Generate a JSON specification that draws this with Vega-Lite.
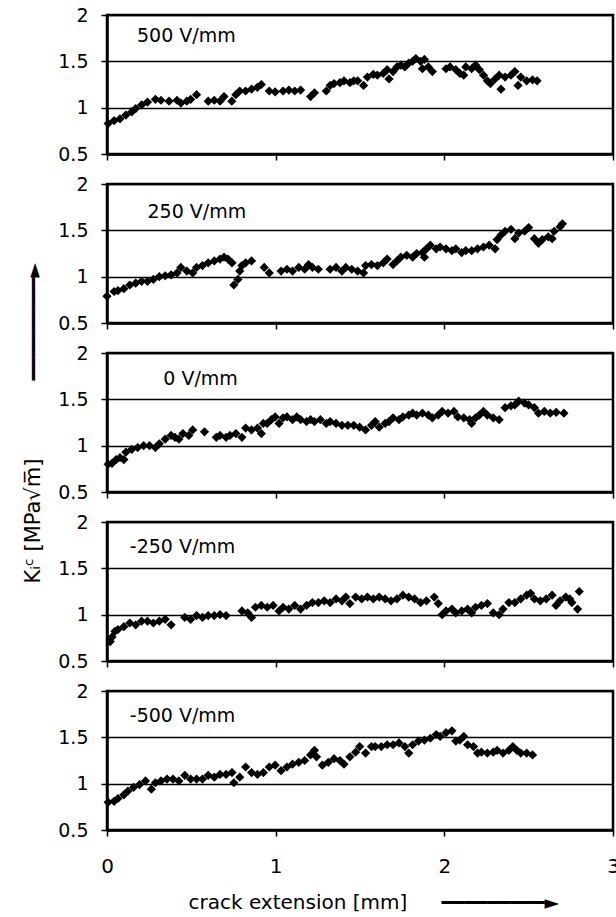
{
  "$schema": "https://vega.github.io/schema/vega-lite/v6.json",
  "padding": {"left": 20, "top": 4, "right": 0, "bottom": 0},
  "background": "white",
  "bounds": "flush",
  "spacing": 30,
  "config": {
    "font": "DejaVu Sans",
    "view": {"stroke": "black", "strokeWidth": 2.5},
    "axis": {
      "labelFont": "DejaVu Sans", "labelColor": "black", "labelFontSize": 19,
      "titleFont": "DejaVu Sans", "titleFontWeight": "normal", "titleColor": "black", "titleFontSize": 19,
      "domainColor": "black", "domainWidth": 2.5, "tickColor": "black", "tickWidth": 1.5, "tickSize": 6,
      "labelFlush": false, "labelOverlap": false, "format": "~g"
    },
    "axisX": {"grid": false, "labels": false, "title": null},
    "axisY": {"grid": true, "gridColor": "black", "gridWidth": 1.5, "labelPadding": 13, "title": null}
  },
  "datasets": {
    "kic": [
      {"panel": "500", "x": 0.007, "k": 0.83}, {"panel": "500", "x": 0.042, "k": 0.86}, {"panel": "500", "x": 0.077, "k": 0.88}, {"panel": "500", "x": 0.112, "k": 0.92}, {"panel": "500", "x": 0.147, "k": 0.955}, {"panel": "500", "x": 0.17, "k": 0.99}, {"panel": "500", "x": 0.205, "k": 1.03}, {"panel": "500", "x": 0.24, "k": 1.06}, {"panel": "500", "x": 0.287, "k": 1.09}, {"panel": "500", "x": 0.32, "k": 1.08}, {"panel": "500", "x": 0.368, "k": 1.07}, {"panel": "500", "x": 0.415, "k": 1.08}, {"panel": "500", "x": 0.438, "k": 1.05}, {"panel": "500", "x": 0.473, "k": 1.07}, {"panel": "500", "x": 0.496, "k": 1.09}, {"panel": "500", "x": 0.531, "k": 1.14}, {"panel": "500", "x": 0.6, "k": 1.07}, {"panel": "500", "x": 0.636, "k": 1.08}, {"panel": "500", "x": 0.67, "k": 1.07}, {"panel": "500", "x": 0.694, "k": 1.12}, {"panel": "500", "x": 0.74, "k": 1.07}, {"panel": "500", "x": 0.764, "k": 1.14}, {"panel": "500", "x": 0.787, "k": 1.18}, {"panel": "500", "x": 0.822, "k": 1.18}, {"panel": "500", "x": 0.857, "k": 1.2}, {"panel": "500", "x": 0.892, "k": 1.22}, {"panel": "500", "x": 0.915, "k": 1.25}, {"panel": "500", "x": 0.962, "k": 1.18}, {"panel": "500", "x": 0.997, "k": 1.17}, {"panel": "500", "x": 1.044, "k": 1.18}, {"panel": "500", "x": 1.078, "k": 1.19}, {"panel": "500", "x": 1.113, "k": 1.18}, {"panel": "500", "x": 1.148, "k": 1.19}, {"panel": "500", "x": 1.207, "k": 1.12}, {"panel": "500", "x": 1.23, "k": 1.16}, {"panel": "500", "x": 1.3, "k": 1.18}, {"panel": "500", "x": 1.323, "k": 1.24}, {"panel": "500", "x": 1.346, "k": 1.26}, {"panel": "500", "x": 1.381, "k": 1.27}, {"panel": "500", "x": 1.405, "k": 1.29}, {"panel": "500", "x": 1.44, "k": 1.27}, {"panel": "500", "x": 1.463, "k": 1.29}, {"panel": "500", "x": 1.486, "k": 1.29}, {"panel": "500", "x": 1.521, "k": 1.24}, {"panel": "500", "x": 1.544, "k": 1.33}, {"panel": "500", "x": 1.579, "k": 1.36}, {"panel": "500", "x": 1.603, "k": 1.35}, {"panel": "500", "x": 1.638, "k": 1.37}, {"panel": "500", "x": 1.661, "k": 1.41}, {"panel": "500", "x": 1.672, "k": 1.31}, {"panel": "500", "x": 1.696, "k": 1.39}, {"panel": "500", "x": 1.719, "k": 1.44}, {"panel": "500", "x": 1.742, "k": 1.46}, {"panel": "500", "x": 1.766, "k": 1.44}, {"panel": "500", "x": 1.789, "k": 1.48}, {"panel": "500", "x": 1.812, "k": 1.5}, {"panel": "500", "x": 1.831, "k": 1.53}, {"panel": "500", "x": 1.859, "k": 1.5}, {"panel": "500", "x": 1.882, "k": 1.52}, {"panel": "500", "x": 1.87, "k": 1.42}, {"panel": "500", "x": 1.905, "k": 1.44}, {"panel": "500", "x": 1.929, "k": 1.39}, {"panel": "500", "x": 2.01, "k": 1.42}, {"panel": "500", "x": 2.034, "k": 1.44}, {"panel": "500", "x": 2.068, "k": 1.41}, {"panel": "500", "x": 2.092, "k": 1.37}, {"panel": "500", "x": 2.115, "k": 1.35}, {"panel": "500", "x": 2.127, "k": 1.44}, {"panel": "500", "x": 2.162, "k": 1.42}, {"panel": "500", "x": 2.185, "k": 1.46}, {"panel": "500", "x": 2.208, "k": 1.41}, {"panel": "500", "x": 2.232, "k": 1.35}, {"panel": "500", "x": 2.255, "k": 1.29}, {"panel": "500", "x": 2.273, "k": 1.26}, {"panel": "500", "x": 2.301, "k": 1.31}, {"panel": "500", "x": 2.325, "k": 1.35}, {"panel": "500", "x": 2.336, "k": 1.2}, {"panel": "500", "x": 2.36, "k": 1.33}, {"panel": "500", "x": 2.395, "k": 1.35}, {"panel": "500", "x": 2.418, "k": 1.39}, {"panel": "500", "x": 2.437, "k": 1.24}, {"panel": "500", "x": 2.453, "k": 1.33}, {"panel": "500", "x": 2.488, "k": 1.29}, {"panel": "500", "x": 2.523, "k": 1.3}, {"panel": "500", "x": 2.55, "k": 1.29},

      {"panel": "250", "x": 0.0, "k": 0.79}, {"panel": "250", "x": 0.042, "k": 0.84}, {"panel": "250", "x": 0.065, "k": 0.85}, {"panel": "250", "x": 0.1, "k": 0.87}, {"panel": "250", "x": 0.135, "k": 0.91}, {"panel": "250", "x": 0.17, "k": 0.93}, {"panel": "250", "x": 0.205, "k": 0.95}, {"panel": "250", "x": 0.24, "k": 0.95}, {"panel": "250", "x": 0.275, "k": 0.97}, {"panel": "250", "x": 0.31, "k": 1.0}, {"panel": "250", "x": 0.345, "k": 1.01}, {"panel": "250", "x": 0.38, "k": 1.02}, {"panel": "250", "x": 0.415, "k": 1.04}, {"panel": "250", "x": 0.438, "k": 1.1}, {"panel": "250", "x": 0.473, "k": 1.06}, {"panel": "250", "x": 0.508, "k": 1.04}, {"panel": "250", "x": 0.531, "k": 1.1}, {"panel": "250", "x": 0.566, "k": 1.12}, {"panel": "250", "x": 0.6, "k": 1.15}, {"panel": "250", "x": 0.636, "k": 1.17}, {"panel": "250", "x": 0.67, "k": 1.19}, {"panel": "250", "x": 0.694, "k": 1.21}, {"panel": "250", "x": 0.717, "k": 1.19}, {"panel": "250", "x": 0.741, "k": 1.15}, {"panel": "250", "x": 0.752, "k": 0.91}, {"panel": "250", "x": 0.776, "k": 0.97}, {"panel": "250", "x": 0.787, "k": 1.06}, {"panel": "250", "x": 0.8, "k": 1.12}, {"panel": "250", "x": 0.822, "k": 1.15}, {"panel": "250", "x": 0.857, "k": 1.17}, {"panel": "250", "x": 0.932, "k": 1.1}, {"panel": "250", "x": 0.962, "k": 1.04}, {"panel": "250", "x": 1.032, "k": 1.06}, {"panel": "250", "x": 1.067, "k": 1.08}, {"panel": "250", "x": 1.1, "k": 1.06}, {"panel": "250", "x": 1.137, "k": 1.1}, {"panel": "250", "x": 1.172, "k": 1.08}, {"panel": "250", "x": 1.195, "k": 1.13}, {"panel": "250", "x": 1.218, "k": 1.1}, {"panel": "250", "x": 1.253, "k": 1.08}, {"panel": "250", "x": 1.323, "k": 1.08}, {"panel": "250", "x": 1.358, "k": 1.1}, {"panel": "250", "x": 1.393, "k": 1.06}, {"panel": "250", "x": 1.416, "k": 1.1}, {"panel": "250", "x": 1.451, "k": 1.08}, {"panel": "250", "x": 1.486, "k": 1.06}, {"panel": "250", "x": 1.521, "k": 1.04}, {"panel": "250", "x": 1.533, "k": 1.12}, {"panel": "250", "x": 1.568, "k": 1.13}, {"panel": "250", "x": 1.603, "k": 1.12}, {"panel": "250", "x": 1.638, "k": 1.15}, {"panel": "250", "x": 1.661, "k": 1.19}, {"panel": "250", "x": 1.696, "k": 1.13}, {"panel": "250", "x": 1.719, "k": 1.17}, {"panel": "250", "x": 1.742, "k": 1.21}, {"panel": "250", "x": 1.777, "k": 1.23}, {"panel": "250", "x": 1.812, "k": 1.21}, {"panel": "250", "x": 1.836, "k": 1.25}, {"panel": "250", "x": 1.87, "k": 1.26}, {"panel": "250", "x": 1.882, "k": 1.21}, {"panel": "250", "x": 1.894, "k": 1.3}, {"panel": "250", "x": 1.917, "k": 1.34}, {"panel": "250", "x": 1.952, "k": 1.3}, {"panel": "250", "x": 1.975, "k": 1.32}, {"panel": "250", "x": 2.01, "k": 1.3}, {"panel": "250", "x": 2.045, "k": 1.28}, {"panel": "250", "x": 2.068, "k": 1.3}, {"panel": "250", "x": 2.103, "k": 1.26}, {"panel": "250", "x": 2.127, "k": 1.28}, {"panel": "250", "x": 2.162, "k": 1.28}, {"panel": "250", "x": 2.197, "k": 1.3}, {"panel": "250", "x": 2.232, "k": 1.32}, {"panel": "250", "x": 2.266, "k": 1.34}, {"panel": "250", "x": 2.301, "k": 1.3}, {"panel": "250", "x": 2.313, "k": 1.4}, {"panel": "250", "x": 2.336, "k": 1.45}, {"panel": "250", "x": 2.36, "k": 1.49}, {"panel": "250", "x": 2.395, "k": 1.51}, {"panel": "250", "x": 2.418, "k": 1.41}, {"panel": "250", "x": 2.441, "k": 1.47}, {"panel": "250", "x": 2.476, "k": 1.49}, {"panel": "250", "x": 2.5, "k": 1.53}, {"panel": "250", "x": 2.534, "k": 1.41}, {"panel": "250", "x": 2.558, "k": 1.36}, {"panel": "250", "x": 2.581, "k": 1.4}, {"panel": "250", "x": 2.616, "k": 1.43}, {"panel": "250", "x": 2.639, "k": 1.41}, {"panel": "250", "x": 2.651, "k": 1.49}, {"panel": "250", "x": 2.686, "k": 1.54}, {"panel": "250", "x": 2.7, "k": 1.57},

      {"panel": "0", "x": 0.007, "k": 0.8}, {"panel": "0", "x": 0.03, "k": 0.81}, {"panel": "0", "x": 0.054, "k": 0.85}, {"panel": "0", "x": 0.077, "k": 0.87}, {"panel": "0", "x": 0.1, "k": 0.85}, {"panel": "0", "x": 0.112, "k": 0.93}, {"panel": "0", "x": 0.147, "k": 0.96}, {"panel": "0", "x": 0.182, "k": 0.98}, {"panel": "0", "x": 0.217, "k": 1.0}, {"panel": "0", "x": 0.252, "k": 1.0}, {"panel": "0", "x": 0.287, "k": 0.98}, {"panel": "0", "x": 0.31, "k": 1.02}, {"panel": "0", "x": 0.345, "k": 1.07}, {"panel": "0", "x": 0.38, "k": 1.11}, {"panel": "0", "x": 0.403, "k": 1.09}, {"panel": "0", "x": 0.426, "k": 1.07}, {"panel": "0", "x": 0.45, "k": 1.13}, {"panel": "0", "x": 0.485, "k": 1.11}, {"panel": "0", "x": 0.508, "k": 1.17}, {"panel": "0", "x": 0.578, "k": 1.15}, {"panel": "0", "x": 0.648, "k": 1.09}, {"panel": "0", "x": 0.67, "k": 1.11}, {"panel": "0", "x": 0.706, "k": 1.09}, {"panel": "0", "x": 0.729, "k": 1.11}, {"panel": "0", "x": 0.764, "k": 1.13}, {"panel": "0", "x": 0.8, "k": 1.09}, {"panel": "0", "x": 0.822, "k": 1.19}, {"panel": "0", "x": 0.857, "k": 1.17}, {"panel": "0", "x": 0.892, "k": 1.19}, {"panel": "0", "x": 0.915, "k": 1.13}, {"panel": "0", "x": 0.927, "k": 1.24}, {"panel": "0", "x": 0.95, "k": 1.24}, {"panel": "0", "x": 0.974, "k": 1.28}, {"panel": "0", "x": 0.997, "k": 1.31}, {"panel": "0", "x": 1.02, "k": 1.24}, {"panel": "0", "x": 1.044, "k": 1.3}, {"panel": "0", "x": 1.067, "k": 1.31}, {"panel": "0", "x": 1.1, "k": 1.28}, {"panel": "0", "x": 1.125, "k": 1.31}, {"panel": "0", "x": 1.148, "k": 1.28}, {"panel": "0", "x": 1.183, "k": 1.26}, {"panel": "0", "x": 1.207, "k": 1.28}, {"panel": "0", "x": 1.23, "k": 1.26}, {"panel": "0", "x": 1.265, "k": 1.28}, {"panel": "0", "x": 1.3, "k": 1.24}, {"panel": "0", "x": 1.323, "k": 1.26}, {"panel": "0", "x": 1.358, "k": 1.24}, {"panel": "0", "x": 1.393, "k": 1.22}, {"panel": "0", "x": 1.428, "k": 1.22}, {"panel": "0", "x": 1.463, "k": 1.22}, {"panel": "0", "x": 1.498, "k": 1.2}, {"panel": "0", "x": 1.533, "k": 1.17}, {"panel": "0", "x": 1.568, "k": 1.22}, {"panel": "0", "x": 1.59, "k": 1.26}, {"panel": "0", "x": 1.614, "k": 1.2}, {"panel": "0", "x": 1.649, "k": 1.24}, {"panel": "0", "x": 1.672, "k": 1.26}, {"panel": "0", "x": 1.696, "k": 1.3}, {"panel": "0", "x": 1.731, "k": 1.28}, {"panel": "0", "x": 1.754, "k": 1.31}, {"panel": "0", "x": 1.789, "k": 1.33}, {"panel": "0", "x": 1.812, "k": 1.35}, {"panel": "0", "x": 1.836, "k": 1.33}, {"panel": "0", "x": 1.87, "k": 1.35}, {"panel": "0", "x": 1.905, "k": 1.33}, {"panel": "0", "x": 1.929, "k": 1.3}, {"panel": "0", "x": 1.964, "k": 1.33}, {"panel": "0", "x": 1.987, "k": 1.37}, {"panel": "0", "x": 2.022, "k": 1.35}, {"panel": "0", "x": 2.057, "k": 1.37}, {"panel": "0", "x": 2.08, "k": 1.31}, {"panel": "0", "x": 2.115, "k": 1.3}, {"panel": "0", "x": 2.15, "k": 1.28}, {"panel": "0", "x": 2.162, "k": 1.24}, {"panel": "0", "x": 2.185, "k": 1.3}, {"panel": "0", "x": 2.208, "k": 1.33}, {"panel": "0", "x": 2.232, "k": 1.37}, {"panel": "0", "x": 2.255, "k": 1.33}, {"panel": "0", "x": 2.29, "k": 1.3}, {"panel": "0", "x": 2.325, "k": 1.28}, {"panel": "0", "x": 2.36, "k": 1.41}, {"panel": "0", "x": 2.395, "k": 1.43}, {"panel": "0", "x": 2.418, "k": 1.44}, {"panel": "0", "x": 2.441, "k": 1.48}, {"panel": "0", "x": 2.476, "k": 1.46}, {"panel": "0", "x": 2.5, "k": 1.44}, {"panel": "0", "x": 2.534, "k": 1.41}, {"panel": "0", "x": 2.558, "k": 1.35}, {"panel": "0", "x": 2.593, "k": 1.37}, {"panel": "0", "x": 2.628, "k": 1.35}, {"panel": "0", "x": 2.663, "k": 1.36}, {"panel": "0", "x": 2.709, "k": 1.35},

      {"panel": "-250", "x": 0.019, "k": 0.71}, {"panel": "-250", "x": 0.03, "k": 0.76}, {"panel": "-250", "x": 0.047, "k": 0.82}, {"panel": "-250", "x": 0.065, "k": 0.84}, {"panel": "-250", "x": 0.1, "k": 0.87}, {"panel": "-250", "x": 0.135, "k": 0.91}, {"panel": "-250", "x": 0.17, "k": 0.89}, {"panel": "-250", "x": 0.205, "k": 0.93}, {"panel": "-250", "x": 0.24, "k": 0.93}, {"panel": "-250", "x": 0.275, "k": 0.91}, {"panel": "-250", "x": 0.31, "k": 0.93}, {"panel": "-250", "x": 0.345, "k": 0.95}, {"panel": "-250", "x": 0.38, "k": 0.89}, {"panel": "-250", "x": 0.461, "k": 0.97}, {"panel": "-250", "x": 0.496, "k": 0.95}, {"panel": "-250", "x": 0.531, "k": 0.99}, {"panel": "-250", "x": 0.566, "k": 0.97}, {"panel": "-250", "x": 0.6, "k": 0.99}, {"panel": "-250", "x": 0.636, "k": 0.99}, {"panel": "-250", "x": 0.67, "k": 1.0}, {"panel": "-250", "x": 0.706, "k": 0.99}, {"panel": "-250", "x": 0.8, "k": 1.04}, {"panel": "-250", "x": 0.834, "k": 1.02}, {"panel": "-250", "x": 0.857, "k": 0.97}, {"panel": "-250", "x": 0.88, "k": 1.08}, {"panel": "-250", "x": 0.915, "k": 1.1}, {"panel": "-250", "x": 0.95, "k": 1.08}, {"panel": "-250", "x": 0.985, "k": 1.1}, {"panel": "-250", "x": 1.02, "k": 1.04}, {"panel": "-250", "x": 1.044, "k": 1.08}, {"panel": "-250", "x": 1.078, "k": 1.06}, {"panel": "-250", "x": 1.113, "k": 1.1}, {"panel": "-250", "x": 1.148, "k": 1.06}, {"panel": "-250", "x": 1.183, "k": 1.1}, {"panel": "-250", "x": 1.218, "k": 1.13}, {"panel": "-250", "x": 1.253, "k": 1.13}, {"panel": "-250", "x": 1.288, "k": 1.15}, {"panel": "-250", "x": 1.323, "k": 1.13}, {"panel": "-250", "x": 1.358, "k": 1.17}, {"panel": "-250", "x": 1.393, "k": 1.15}, {"panel": "-250", "x": 1.416, "k": 1.19}, {"panel": "-250", "x": 1.44, "k": 1.12}, {"panel": "-250", "x": 1.474, "k": 1.19}, {"panel": "-250", "x": 1.51, "k": 1.17}, {"panel": "-250", "x": 1.544, "k": 1.19}, {"panel": "-250", "x": 1.579, "k": 1.17}, {"panel": "-250", "x": 1.614, "k": 1.19}, {"panel": "-250", "x": 1.649, "k": 1.17}, {"panel": "-250", "x": 1.684, "k": 1.15}, {"panel": "-250", "x": 1.719, "k": 1.17}, {"panel": "-250", "x": 1.754, "k": 1.21}, {"panel": "-250", "x": 1.789, "k": 1.19}, {"panel": "-250", "x": 1.824, "k": 1.17}, {"panel": "-250", "x": 1.859, "k": 1.13}, {"panel": "-250", "x": 1.894, "k": 1.15}, {"panel": "-250", "x": 1.94, "k": 1.19}, {"panel": "-250", "x": 1.964, "k": 1.12}, {"panel": "-250", "x": 1.987, "k": 1.0}, {"panel": "-250", "x": 2.01, "k": 1.04}, {"panel": "-250", "x": 2.045, "k": 1.06}, {"panel": "-250", "x": 2.068, "k": 1.02}, {"panel": "-250", "x": 2.103, "k": 1.04}, {"panel": "-250", "x": 2.138, "k": 1.06}, {"panel": "-250", "x": 2.162, "k": 1.02}, {"panel": "-250", "x": 2.185, "k": 1.08}, {"panel": "-250", "x": 2.22, "k": 1.1}, {"panel": "-250", "x": 2.255, "k": 1.12}, {"panel": "-250", "x": 2.29, "k": 1.02}, {"panel": "-250", "x": 2.325, "k": 1.0}, {"panel": "-250", "x": 2.348, "k": 1.06}, {"panel": "-250", "x": 2.383, "k": 1.13}, {"panel": "-250", "x": 2.418, "k": 1.13}, {"panel": "-250", "x": 2.453, "k": 1.17}, {"panel": "-250", "x": 2.488, "k": 1.21}, {"panel": "-250", "x": 2.511, "k": 1.23}, {"panel": "-250", "x": 2.534, "k": 1.17}, {"panel": "-250", "x": 2.569, "k": 1.15}, {"panel": "-250", "x": 2.604, "k": 1.17}, {"panel": "-250", "x": 2.639, "k": 1.21}, {"panel": "-250", "x": 2.662, "k": 1.1}, {"panel": "-250", "x": 2.686, "k": 1.15}, {"panel": "-250", "x": 2.72, "k": 1.19}, {"panel": "-250", "x": 2.744, "k": 1.17}, {"panel": "-250", "x": 2.756, "k": 1.13}, {"panel": "-250", "x": 2.79, "k": 1.06}, {"panel": "-250", "x": 2.8, "k": 1.25},

      {"panel": "-500", "x": 0.007, "k": 0.8}, {"panel": "-500", "x": 0.042, "k": 0.81}, {"panel": "-500", "x": 0.065, "k": 0.84}, {"panel": "-500", "x": 0.1, "k": 0.88}, {"panel": "-500", "x": 0.124, "k": 0.92}, {"panel": "-500", "x": 0.158, "k": 0.96}, {"panel": "-500", "x": 0.193, "k": 0.99}, {"panel": "-500", "x": 0.228, "k": 1.03}, {"panel": "-500", "x": 0.263, "k": 0.94}, {"panel": "-500", "x": 0.287, "k": 1.01}, {"panel": "-500", "x": 0.32, "k": 1.03}, {"panel": "-500", "x": 0.356, "k": 1.05}, {"panel": "-500", "x": 0.391, "k": 1.05}, {"panel": "-500", "x": 0.426, "k": 1.03}, {"panel": "-500", "x": 0.461, "k": 1.09}, {"panel": "-500", "x": 0.496, "k": 1.05}, {"panel": "-500", "x": 0.531, "k": 1.05}, {"panel": "-500", "x": 0.566, "k": 1.05}, {"panel": "-500", "x": 0.6, "k": 1.09}, {"panel": "-500", "x": 0.636, "k": 1.07}, {"panel": "-500", "x": 0.67, "k": 1.1}, {"panel": "-500", "x": 0.706, "k": 1.1}, {"panel": "-500", "x": 0.741, "k": 1.12}, {"panel": "-500", "x": 0.752, "k": 1.01}, {"panel": "-500", "x": 0.787, "k": 1.07}, {"panel": "-500", "x": 0.822, "k": 1.18}, {"panel": "-500", "x": 0.857, "k": 1.12}, {"panel": "-500", "x": 0.892, "k": 1.1}, {"panel": "-500", "x": 0.927, "k": 1.12}, {"panel": "-500", "x": 0.962, "k": 1.18}, {"panel": "-500", "x": 0.997, "k": 1.2}, {"panel": "-500", "x": 1.032, "k": 1.14}, {"panel": "-500", "x": 1.067, "k": 1.18}, {"panel": "-500", "x": 1.1, "k": 1.21}, {"panel": "-500", "x": 1.137, "k": 1.23}, {"panel": "-500", "x": 1.172, "k": 1.25}, {"panel": "-500", "x": 1.207, "k": 1.31}, {"panel": "-500", "x": 1.23, "k": 1.36}, {"panel": "-500", "x": 1.242, "k": 1.29}, {"panel": "-500", "x": 1.277, "k": 1.2}, {"panel": "-500", "x": 1.312, "k": 1.23}, {"panel": "-500", "x": 1.346, "k": 1.27}, {"panel": "-500", "x": 1.381, "k": 1.25}, {"panel": "-500", "x": 1.405, "k": 1.21}, {"panel": "-500", "x": 1.44, "k": 1.29}, {"panel": "-500", "x": 1.474, "k": 1.34}, {"panel": "-500", "x": 1.498, "k": 1.4}, {"panel": "-500", "x": 1.533, "k": 1.33}, {"panel": "-500", "x": 1.568, "k": 1.4}, {"panel": "-500", "x": 1.59, "k": 1.4}, {"panel": "-500", "x": 1.626, "k": 1.4}, {"panel": "-500", "x": 1.661, "k": 1.42}, {"panel": "-500", "x": 1.696, "k": 1.42}, {"panel": "-500", "x": 1.731, "k": 1.44}, {"panel": "-500", "x": 1.766, "k": 1.4}, {"panel": "-500", "x": 1.789, "k": 1.33}, {"panel": "-500", "x": 1.812, "k": 1.42}, {"panel": "-500", "x": 1.847, "k": 1.46}, {"panel": "-500", "x": 1.882, "k": 1.47}, {"panel": "-500", "x": 1.917, "k": 1.49}, {"panel": "-500", "x": 1.952, "k": 1.53}, {"panel": "-500", "x": 1.975, "k": 1.51}, {"panel": "-500", "x": 2.01, "k": 1.55}, {"panel": "-500", "x": 2.045, "k": 1.57}, {"panel": "-500", "x": 2.068, "k": 1.46}, {"panel": "-500", "x": 2.092, "k": 1.47}, {"panel": "-500", "x": 2.115, "k": 1.51}, {"panel": "-500", "x": 2.138, "k": 1.42}, {"panel": "-500", "x": 2.173, "k": 1.4}, {"panel": "-500", "x": 2.197, "k": 1.33}, {"panel": "-500", "x": 2.22, "k": 1.34}, {"panel": "-500", "x": 2.255, "k": 1.33}, {"panel": "-500", "x": 2.29, "k": 1.34}, {"panel": "-500", "x": 2.313, "k": 1.36}, {"panel": "-500", "x": 2.348, "k": 1.33}, {"panel": "-500", "x": 2.383, "k": 1.36}, {"panel": "-500", "x": 2.406, "k": 1.4}, {"panel": "-500", "x": 2.43, "k": 1.36}, {"panel": "-500", "x": 2.453, "k": 1.33}, {"panel": "-500", "x": 2.488, "k": 1.33}, {"panel": "-500", "x": 2.523, "k": 1.31}
    ]
  },
  "vconcat": [
    {
      "width": 506, "height": 139,
      "layer": [
        {
          "data": {"name": "kic"},
          "transform": [{"filter": "datum.panel == '500'"}],
          "mark": {"type": "point", "shape": "diamond", "filled": true, "color": "black", "size": 85, "opacity": 1},
          "encoding": {
            "x": {"field": "x", "type": "quantitative", "scale": {"domain": [0, 3], "nice": false}, "axis": {"values": [0, 1, 2, 3]}},
            "y": {"field": "k", "type": "quantitative", "scale": {"domain": [0.5, 2], "nice": false, "zero": false}, "axis": {"values": [0.5, 1, 1.5, 2]}}
          }
        },
        {
          "data": {"values": [{}]},
          "mark": {"type": "text", "align": "left", "baseline": "middle", "fontSize": 19, "font": "DejaVu Sans", "color": "black"},
          "encoding": {"x": {"datum": 0.178}, "y": {"datum": 1.77}, "text": {"value": "500 V/mm"}}
        }
      ]
    },
    {
      "width": 506, "height": 139,
      "layer": [
        {
          "data": {"name": "kic"},
          "transform": [{"filter": "datum.panel == '250'"}],
          "mark": {"type": "point", "shape": "diamond", "filled": true, "color": "black", "size": 85, "opacity": 1},
          "encoding": {
            "x": {"field": "x", "type": "quantitative", "scale": {"domain": [0, 3], "nice": false}, "axis": {"values": [0, 1, 2, 3]}},
            "y": {"field": "k", "type": "quantitative", "scale": {"domain": [0.5, 2], "nice": false, "zero": false},
                  "axis": {"values": [0.5, 1, 1.5, 2], "title": "━━━━━━━━━►", "titleAngle": 270, "titleAlign": "left", "titleBaseline": "middle", "titleX": -74, "titleY": 196}}
          }
        },
        {
          "data": {"values": [{}]},
          "mark": {"type": "text", "align": "left", "baseline": "middle", "fontSize": 19, "font": "DejaVu Sans", "color": "black"},
          "encoding": {"x": {"datum": 0.24}, "y": {"datum": 1.7}, "text": {"value": "250 V/mm"}}
        }
      ]
    },
    {
      "width": 506, "height": 139,
      "layer": [
        {
          "data": {"name": "kic"},
          "transform": [{"filter": "datum.panel == '0'"}],
          "mark": {"type": "point", "shape": "diamond", "filled": true, "color": "black", "size": 85, "opacity": 1},
          "encoding": {
            "x": {"field": "x", "type": "quantitative", "scale": {"domain": [0, 3], "nice": false}, "axis": {"values": [0, 1, 2, 3]}},
            "y": {"field": "k", "type": "quantitative", "scale": {"domain": [0.5, 2], "nice": false, "zero": false},
                  "axis": {"values": [0.5, 1, 1.5, 2], "title": "Kᵢᶜ [MPa√m̅]", "titleFontSize": 21, "titleAngle": 270, "titleAlign": "left", "titleBaseline": "middle", "titleX": -74, "titleY": 230}}
          }
        },
        {
          "data": {"values": [{}]},
          "mark": {"type": "text", "align": "left", "baseline": "middle", "fontSize": 19, "font": "DejaVu Sans", "color": "black"},
          "encoding": {"x": {"datum": 0.334}, "y": {"datum": 1.72}, "text": {"value": "0 V/mm"}}
        }
      ]
    },
    {
      "width": 506, "height": 139,
      "layer": [
        {
          "data": {"name": "kic"},
          "transform": [{"filter": "datum.panel == '-250'"}],
          "mark": {"type": "point", "shape": "diamond", "filled": true, "color": "black", "size": 85, "opacity": 1},
          "encoding": {
            "x": {"field": "x", "type": "quantitative", "scale": {"domain": [0, 3], "nice": false},
                  "axis": {"values": [0, 1, 2, 3], "title": "━━━━━━━━━►", "titleAlign": "left", "titleBaseline": "middle", "titleX": 334, "titleY": 241}},
            "y": {"field": "k", "type": "quantitative", "scale": {"domain": [0.5, 2], "nice": false, "zero": false}, "axis": {"values": [0.5, 1, 1.5, 2]}}
          }
        },
        {
          "data": {"values": [{}]},
          "mark": {"type": "text", "align": "left", "baseline": "middle", "fontSize": 19, "font": "DejaVu Sans", "color": "black"},
          "encoding": {"x": {"datum": 0.135}, "y": {"datum": 1.73}, "text": {"value": "-250 V/mm"}}
        }
      ]
    },
    {
      "width": 506, "height": 139,
      "layer": [
        {
          "data": {"name": "kic"},
          "transform": [{"filter": "datum.panel == '-500'"}],
          "mark": {"type": "point", "shape": "diamond", "filled": true, "color": "black", "size": 85, "opacity": 1},
          "encoding": {
            "x": {"field": "x", "type": "quantitative", "scale": {"domain": [0, 3], "nice": false},
                  "axis": {"values": [0, 1, 2, 3], "format": "~g", "labels": true, "labelFontSize": 20, "labelPadding": 20, "title": "crack extension [mm]", "titleFontSize": 20, "titleAlign": "left", "titleBaseline": "middle", "titleX": 81, "titleY": 72}},
            "y": {"field": "k", "type": "quantitative", "scale": {"domain": [0.5, 2], "nice": false, "zero": false}, "axis": {"values": [0.5, 1, 1.5, 2]}}
          }
        },
        {
          "data": {"values": [{}]},
          "mark": {"type": "text", "align": "left", "baseline": "middle", "fontSize": 19, "font": "DejaVu Sans", "color": "black"},
          "encoding": {"x": {"datum": 0.135}, "y": {"datum": 1.73}, "text": {"value": "-500 V/mm"}}
        }
      ]
    }
  ]
}
